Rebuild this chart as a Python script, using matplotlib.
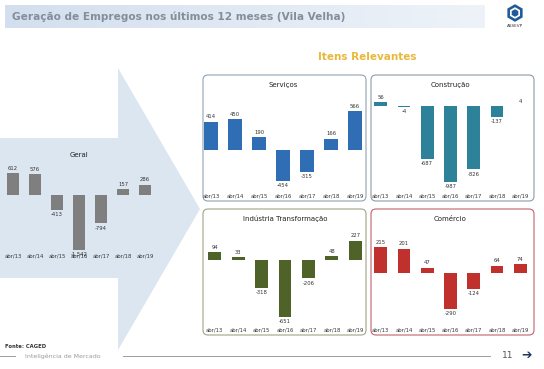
import numpy as np
import matplotlib.pyplot as plt
from matplotlib.patches import Polygon, FancyBboxPatch, RegularPolygon

# Data
meses = ["abr/13", "abr/14", "abr/15", "abr/16", "abr/17", "abr/18", "abr/19"]
geral = [612, 576, -413, -1542, -794, 157, 286]
servicos = [414, 450, 190, -454, -315, 166, 566]
construcao = [56, -4, -687, -987, -826, -137, 4]
industria = [94, 33, -318, -651, -206, 48, 227]
comercio = [215, 201, 47, -290, -124, 64, 74]

W, H = 544, 369
fig = plt.figure(figsize=(W / 100, H / 100), dpi=100)

# background axes in pixel coordinates
bg = fig.add_axes([0, 0, 1, 1])
bg.set_xlim(0, W)
bg.set_ylim(H, 0)
bg.axis("off")

# title bar with a light gradient
grad = np.linspace(0, 1, 256).reshape(1, -1)
bg.imshow(grad, extent=(5, 485, 28, 5), cmap=plt.matplotlib.colors.LinearSegmentedColormap.from_list(
    "g", ["#d3dfee", "#eef3f9"]), aspect="auto", zorder=0)
bg.text(12, 17, "Geração de Empregos nos últimos 12 meses (Vila Velha)", fontsize=7.6,
        fontweight="bold", color="#848e9b", va="center")

# logo
bg.add_patch(RegularPolygon((515, 13), 6, radius=8, color="#1f5a9a", zorder=3))
bg.add_patch(RegularPolygon((515, 13), 6, radius=5, color="white", zorder=4))
bg.add_patch(RegularPolygon((515, 13), 6, radius=3, color="#1f5a9a", zorder=5))
bg.text(515, 26, "ASSEVP", fontsize=3, ha="center", va="center", color="#333333")

bg.text(367, 57, "Itens Relevantes", fontsize=7.5, fontweight="bold", color="#e8b83a",
        ha="center", va="center")

# big arrow
bg.add_patch(Polygon([(0, 138), (118, 138), (118, 68), (200, 209), (118, 350),
                      (118, 278), (0, 278)], closed=True, color="#dce6f0", lw=0, zorder=1))

# panel boxes
panels = [(201, 73, "#8fa3b3"), (369, 73, "#8c9ca8"), (201, 207, "#a3a386"), (369, 207, "#c2636b")]
for x0, y0, ec in panels:
    bg.add_patch(FancyBboxPatch((x0 + 2, y0 + 2), 163, 126, boxstyle="round,pad=0,rounding_size=5",
                                fc="white", ec=ec, lw=0.8, zorder=2))

# footer
bg.text(5, 346, "Fonte: CAGED", fontsize=3.8, fontweight="bold", color="#333333", va="center")
bg.plot([0, 15], [356, 356], color="#8c8c8c", lw=0.6)
bg.text(25, 356, "Inteligência de Mercado", fontsize=4.5, color="#9a9a9a", va="center")
bg.plot([123, 490], [356, 356], color="#8c8c8c", lw=0.6)
bg.text(508, 356, "11", fontsize=6.5, color="#555555", va="center", ha="center")
bg.text(527, 356, "➔", fontsize=9, color="#1f3a66", va="center", ha="center", fontweight="bold")


def bar_chart(box, ylim, vals, color, title, title_y, fs=3.8):
    x0, y0, x1, y1 = box
    ax = fig.add_axes([x0 / W, 1 - y1 / H, (x1 - x0) / W, (y1 - y0) / H])
    ax.patch.set_alpha(0)
    x = np.arange(len(vals))
    ax.bar(x, vals, width=0.55, color=color, edgecolor="none", zorder=3)
    ax.set_xlim(-0.5, len(vals) - 0.5)
    ax.set_ylim(*ylim)
    off = (ylim[1] - ylim[0]) * 0.025
    for xi, v in zip(x, vals):
        lab = f"{v:,}".replace(",", ".")
        if v >= 0:
            ax.text(xi, v + off, lab, ha="center", va="bottom", fontsize=fs, color="#333333")
        else:
            ax.text(xi, v - off, lab, ha="center", va="top", fontsize=fs, color="#333333")
    ax.set_xticks(x)
    ax.set_xticklabels(meses, fontsize=fs, color="#333333")
    ax.tick_params(axis="x", length=0, pad=1)
    ax.set_yticks([])
    for s in ax.spines.values():
        s.set_visible(False)
    bg.text((x0 + x1) / 2, title_y, title, fontsize=5, ha="center", va="center", color="#222222", zorder=5)
    return ax


bar_chart((2, 160, 156, 252), (-1597, 980), geral, "#7f7f7f", "Geral", 155)
bar_chart((199, 100, 367, 192), (-612, 731), servicos, "#2f6db5", "Serviços", 85)
bar_chart((369, 95, 532, 192), (-1123, 150), construcao, "#2d8199", "Construção", 85)
bar_chart((203, 230, 367, 326), (-756, 349), industria, "#4f6228", "Indústria Transformação", 219)
bar_chart((369, 230, 532, 326), (-430, 355), comercio, "#c0302c", "Comércio", 219)

fig.savefig("out.png", dpi=100)
